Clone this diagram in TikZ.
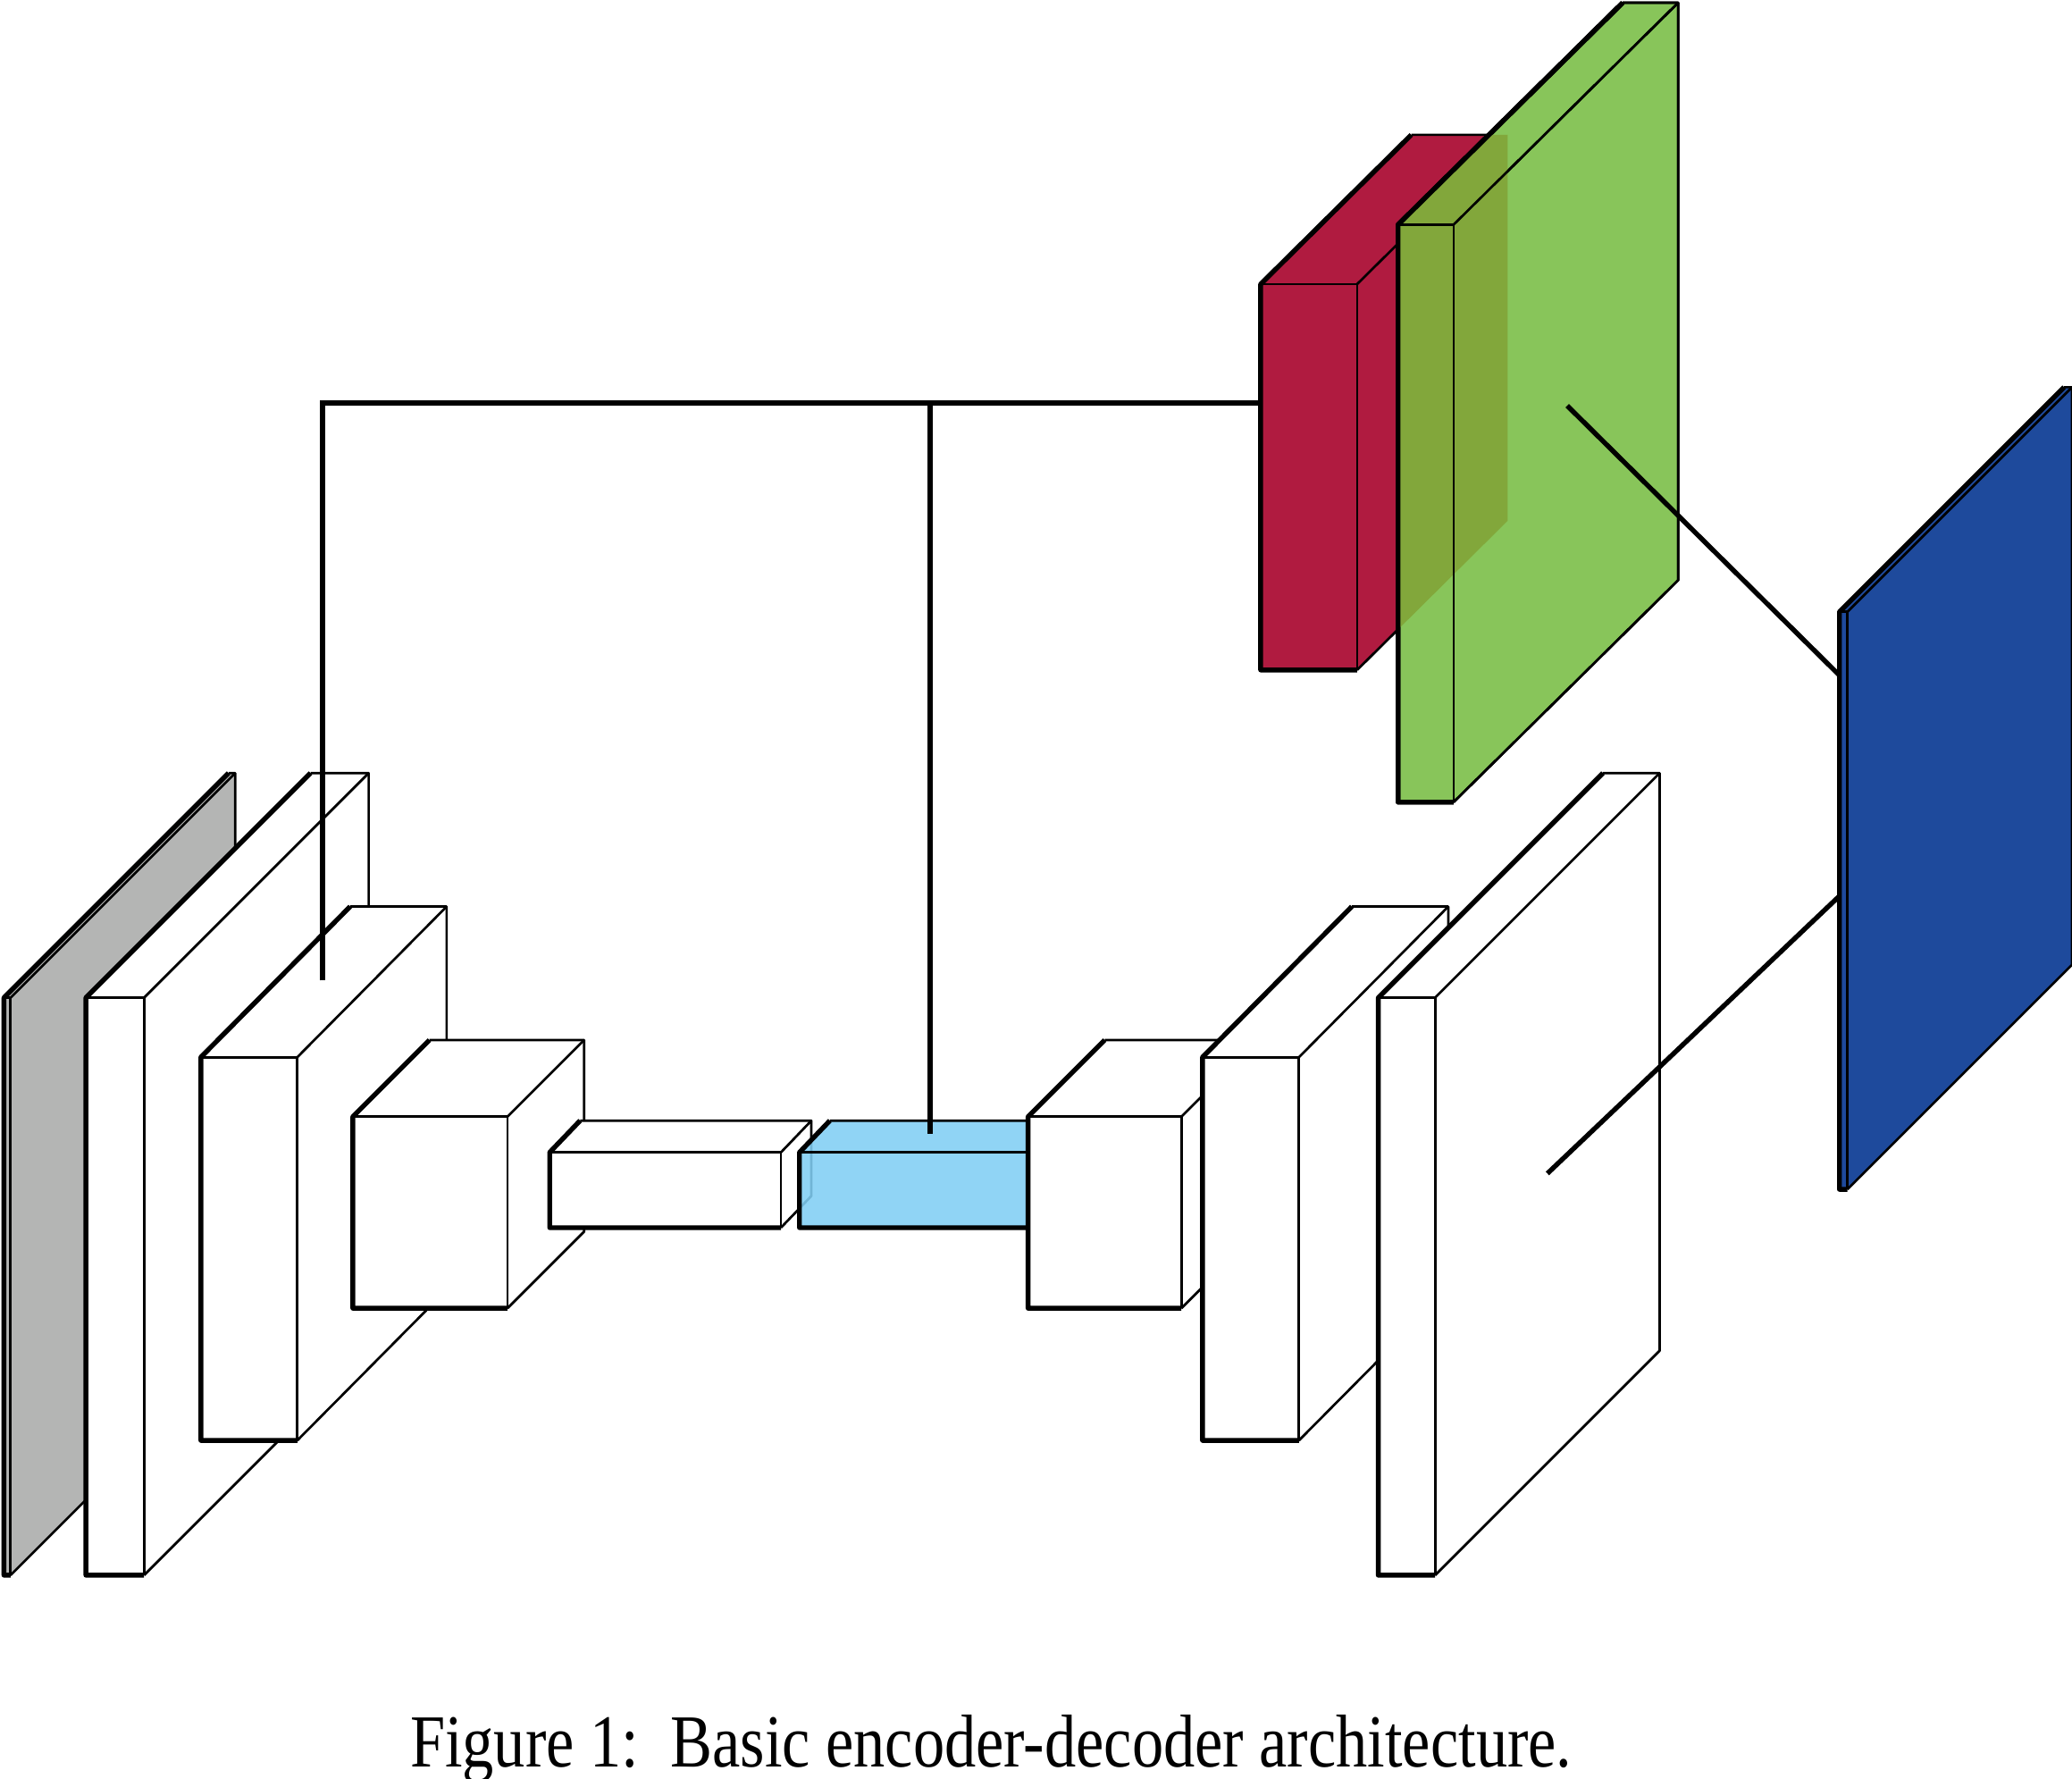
\documentclass[tikz,border=0pt]{standalone}
\usepackage{fontspec}
\setmainfont{Liberation Serif}
\definecolor{plategray}{HTML}{B4B5B4}
\definecolor{codeblue}{HTML}{81CFF4}
\definecolor{outblue}{HTML}{1E4A9C}
\definecolor{attred}{HTML}{B01B40}
\definecolor{attgreen}{HTML}{88C55A}
\definecolor{olive}{HTML}{82A73B}
\tikzset{
  thinedge/.style={line width=0.55pt, line join=round},
  thickedge/.style={line width=1.1pt, line join=round},
  conn/.style={line width=1.1pt},
}
% #1 x, #2 y (front top-left), #3 w, #4 h, #5 dx, #6 dy (depth up-right), #7 fill
\newcommand\cnnbox[7]{%
  \path[fill=#7] (#1,{#2+#4}) -- (#1,#2) -- ({#1+#5},{#2-#6}) -- ({#1+#3+#5},{#2-#6})
     -- ({#1+#3+#5},{#2+#4-#6}) -- ({#1+#3},{#2+#4}) -- cycle;
  \draw[thinedge] (#1,#2) -- ({#1+#3},#2) -- ({#1+#3},{#2+#4});
  \draw[thinedge] ({#1+#3},#2) -- ({#1+#3+#5},{#2-#6});
  \draw[thinedge] ({#1+#5},{#2-#6}) -- ({#1+#3+#5},{#2-#6}) -- ({#1+#3+#5},{#2+#4-#6}) -- ({#1+#3},{#2+#4});
  \draw[thickedge] ({#1+#5},{#2-#6}) -- (#1,#2) -- (#1,{#2+#4}) -- ({#1+#3},{#2+#4});
}
\begin{document}
\begin{tikzpicture}[x=0.3pt,y=-0.3pt]
\useasboundingbox[fill=white] (0,0) rectangle (1568,1346);
% encoder
\cnnbox{3}{755}{5}{437}{170}{170}{plategray}
\cnnbox{65}{755}{44}{437}{170}{170}{white}
\cnnbox{152}{800}{73}{290}{113}{114}{white}
\cnnbox{267}{845}{117}{145}{58}{58}{white}
\cnnbox{416}{872}{175}{57}{23}{24}{white}
% bottleneck
\cnnbox{605}{872}{173}{57}{23}{24}{codeblue, fill opacity=0.88}
% decoder
\cnnbox{778}{845}{116}{145}{58}{58}{white}
\cnnbox{910}{800}{73}{290}{113}{114}{white}
\cnnbox{1043}{755}{43}{437}{170}{170}{white}
% attention blocks
\cnnbox{954}{215}{73}{292}{114}{113}{attred}
\cnnbox{1058}{170}{42}{437}{170}{168}{attgreen}
\begin{scope}
  \clip (1058,607) -- (1058,170) -- (1228,2) -- (1270,2) -- (1270,439) -- (1100,607) -- cycle;
  \fill[olive] (954,507) -- (954,215) -- (1068,102) -- (1141,102) -- (1141,394) -- (1027,507) -- cycle;
\end{scope}
\cnnbox{1058}{170}{42}{437}{170}{168}{none}
% output
\cnnbox{1392}{463}{6}{437}{170}{170}{outblue}
% connectors
\coordinate (e2) at (244,742);
\coordinate (c1) at (244,305);
\coordinate (j1) at (704,305);
\coordinate (r1) at (954,305);
\coordinate (b1) at (704,858);
\coordinate (g1) at (1186,307);
\coordinate (o1) at (1392,511);
\coordinate (d9) at (1171,888);
\coordinate (o2) at (1392,678);
\draw[conn] (e2) -- (c1) -- (r1);
\draw[conn] (j1) -- (b1);
\draw[conn] (g1) -- (o1);
\draw[conn] (d9) -- (o2);
\node[anchor=base, inner sep=0pt, font=\fontsize{17}{20}\selectfont] (cap) at (750,1337) {\scalebox{0.84}[1]{Figure 1:\ \ Basic encoder-decoder architecture.}};
\end{tikzpicture}
\end{document}
